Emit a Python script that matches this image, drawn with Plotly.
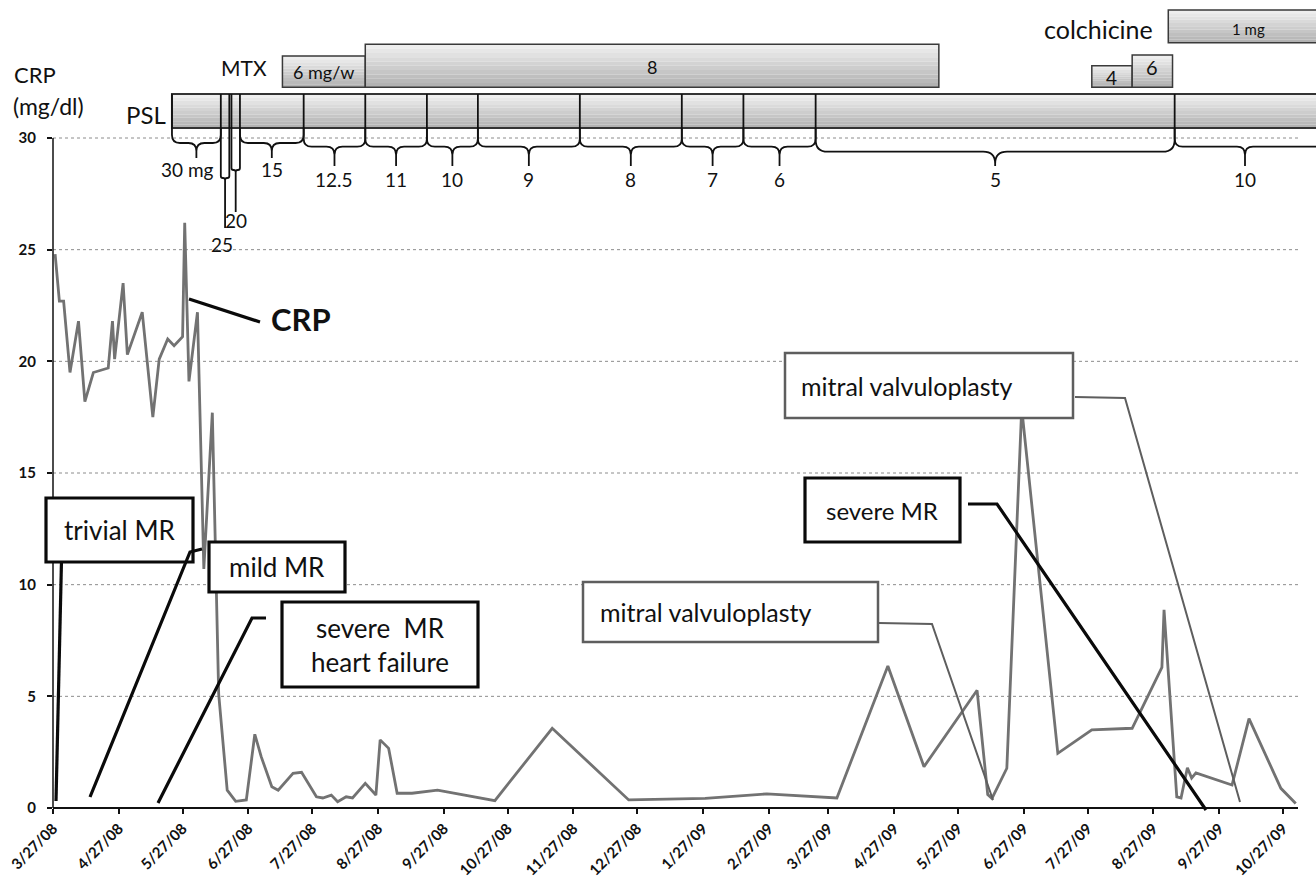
import plotly.graph_objects as go
import pandas as pd

# ---------------- data ----------------
crp_dates = ['2008-03-28', '2008-03-30', '2008-04-01', '2008-04-04', '2008-04-08', '2008-04-11',
             '2008-04-15', '2008-04-22', '2008-04-24', '2008-04-25', '2008-04-29', '2008-05-01',
             '2008-05-08', '2008-05-13', '2008-05-16', '2008-05-20', '2008-05-23', '2008-05-27',
             '2008-05-28', '2008-05-30', '2008-06-03', '2008-06-06', '2008-06-10', '2008-06-13',
             '2008-06-17', '2008-06-21', '2008-06-26', '2008-06-30', '2008-07-03', '2008-07-08',
             '2008-07-11', '2008-07-18', '2008-07-22', '2008-07-29', '2008-08-01', '2008-08-05',
             '2008-08-08', '2008-08-12', '2008-08-15', '2008-08-21', '2008-08-26', '2008-08-28',
             '2008-09-01', '2008-09-05', '2008-09-12', '2008-09-24', '2008-10-21', '2008-11-17',
             '2008-12-23', '2009-01-28', '2009-02-26', '2009-03-31', '2009-04-24', '2009-05-11',
             '2009-06-05', '2009-06-10', '2009-06-12', '2009-06-19', '2009-06-26', '2009-07-13',
             '2009-07-29', '2009-08-17', '2009-08-31', '2009-09-01', '2009-09-07', '2009-09-09',
             '2009-09-12', '2009-09-14', '2009-09-16', '2009-10-03', '2009-10-11', '2009-10-26',
             '2009-11-02']
crp_values = [24.8, 22.7, 22.7, 19.5, 21.8, 18.2,
              19.5, 19.7, 21.8, 20.1, 23.5, 20.3,
              22.2, 17.5, 20.1, 21.0, 20.7, 21.1,
              26.2, 19.1, 22.2, 10.7, 17.7, 5.1,
              0.8, 0.3, 0.36, 3.3, 2.3, 0.95,
              0.8, 1.55, 1.6, 0.5, 0.45, 0.58,
              0.28, 0.5, 0.45, 1.1, 0.58, 3.05,
              2.67, 0.66, 0.66, 0.8, 0.33, 3.57,
              0.36, 0.43, 0.63, 0.45, 6.36, 1.85,
              5.27, 0.6, 0.43, 1.78, 17.9, 2.45,
              3.5, 3.57, 6.3, 8.87, 0.5, 0.45,
              1.8, 1.34, 1.57, 1.03, 4.0, 0.88,
              0.2]

tick_labels = ['3/27/08', '4/27/08', '5/27/08', '6/27/08', '7/27/08', '8/27/08', '9/27/08',
               '10/27/08', '11/27/08', '12/27/08', '1/27/09', '2/27/09', '3/27/09', '4/27/09',
               '5/27/09', '6/27/09', '7/27/09', '8/27/09', '9/27/09', '10/27/09']
y_ticks = [0, 5, 10, 15, 20, 25, 30]

psl_start = ['2008-05-22', '2008-06-14', '2008-06-19', '2008-06-23', '2008-07-23', '2008-08-21',
             '2008-09-19', '2008-10-13', '2008-11-30', '2009-01-17', '2009-02-15', '2009-03-21',
             '2009-09-06']
psl_end = ['2008-06-14', '2008-06-18', '2008-06-23', '2008-07-23', '2008-08-21', '2008-09-19',
           '2008-10-13', '2008-11-30', '2009-01-17', '2009-02-15', '2009-03-21', '2009-09-06',
           '2009-12-31']
psl_dose = ['30 mg', '25', '20', '15', '12.5', '11', '10', '9', '8', '7', '6', '5', '10']

mtx_start = ['2008-07-13', '2008-08-21']
mtx_end = ['2008-08-21', '2009-05-18']
mtx_dose = ['6 mg/w', '8']

colch_start = ['2009-07-29', '2009-08-17', '2009-09-03']
colch_end = ['2009-08-17', '2009-09-05', '2009-12-31']
colch_dose = ['4', '6', '1 mg']

# ---------------- geometry helpers (pixel layout of the page) ----------------
W, H = 1316, 880
PL, PB = 53, 808                 # plot left / plot bottom in px (top margin 0, right margin 0)
X0 = pd.Timestamp('2008-03-27')
PX_PER_DAY = (1283 - 53) / 579.0
Y_PX_PER_UNIT = (808 - 138) / 30.0
FONT = 'Lato'


def xp(px):
    return (px - PL) / (W - PL)


def yp(py):
    return 1 - py / PB


def d2px(d):
    return PL + (pd.Timestamp(d) - X0).total_seconds() / 86400.0 * PX_PER_DAY


def px2d(px, sep=' '):
    t = X0 + pd.Timedelta(seconds=(px - PL) / PX_PER_DAY * 86400.0)
    return t.strftime('%Y-%m-%d' + sep + '%H:%M:%S')


fig = go.Figure()

fig.add_trace(go.Scatter(x=crp_dates, y=crp_values, mode='lines',
                         line=dict(color='#727272', width=2.8), hoverinfo='skip',
                         showlegend=False))

shapes = []
annotations = []

# gridlines + axis lines
x_end = px2d(1298)
for v in y_ticks[1:]:
    shapes.append(dict(type='line', xref='x', yref='y', x0=str(X0.date()), x1=x_end, y0=v, y1=v,
                       line=dict(color='#8c8c8c', width=1, dash='dot'), layer='below'))
shapes.append(dict(type='line', xref='x', yref='paper', x0=str(X0.date()), x1=x_end, y0=0, y1=0,
                   line=dict(color='#111', width=2), layer='above'))
shapes.append(dict(type='line', xref='paper', yref='y', x0=0, x1=0, y0=0, y1=30,
                   line=dict(color='#111', width=1.5), layer='above'))


def grad_bar(d0, d1, ytop, ybot, n=10, c_top=238, c_bot=178, border='#3a3a3a', bw=1.5):
    for i in range(n):
        a = ytop + (ybot - ytop) * i / n
        b = ytop + (ybot - ytop) * (i + 1) / n
        c = int(round(c_top + (c_bot - c_top) * i / (n - 1)))
        shapes.append(dict(type='rect', xref='x', yref='paper', x0=d0, x1=d1,
                           y0=yp(b), y1=yp(a), line=dict(width=0),
                           fillcolor='rgb(%d,%d,%d)' % (c, c, c), layer='above'))
    shapes.append(dict(type='rect', xref='x', yref='paper', x0=d0, x1=d1,
                       y0=yp(ybot), y1=yp(ytop), line=dict(color=border, width=bw),
                       fillcolor='rgba(0,0,0,0)', layer='above'))


def brace(d0, d1, ytop, yh, yt, r, xm=None):
    x0, x1 = d2px(d0), d2px(d1)
    if xm is None:
        xm = (x0 + x1) / 2
    r = min(r, (x1 - x0) / 4.0)

    def P(x, y):
        return '%s,%.5f' % (px2d(x, '_'), yp(y))
    path = ('M ' + P(x0, ytop) + ' L ' + P(x0, yh - r) + ' Q ' + P(x0, yh) + ' ' + P(x0 + r, yh) +
            ' L ' + P(xm - r, yh) + ' Q ' + P(xm, yh) + ' ' + P(xm, yh + r) + ' L ' + P(xm, yt) +
            ' M ' + P(xm, yh + r) + ' Q ' + P(xm, yh) + ' ' + P(xm + r, yh) +
            ' L ' + P(x1 - r, yh) + ' Q ' + P(x1, yh) + ' ' + P(x1, yh - r) + ' L ' + P(x1, ytop))
    shapes.append(dict(type='path', xref='x', yref='paper', path=path,
                       line=dict(color='#111', width=1.8), layer='above'))


def label(text, x, y, size, xref='paper', xanchor='center', bold=False, color='#111', **kw):
    annotations.append(dict(text=text, x=x, y=y, xref=xref, yref='paper', xanchor=xanchor,
                            yanchor='middle', showarrow=False,
                            font=dict(family=FONT, size=size, color=color,
                                      weight='bold' if bold else 'normal'), **kw))


# ---- PSL bar ----
PSL_TOP, PSL_BOT = 94, 128
grad_bar(psl_start[0], psl_end[-1], PSL_TOP, PSL_BOT, border='#333', bw=2)
bounds = sorted(set(psl_start + psl_end[:-1]))
for b in bounds:
    shapes.append(dict(type='line', xref='x', yref='paper', x0=b, x1=b, y0=yp(PSL_BOT),
                       y1=yp(PSL_TOP), line=dict(color='#111', width=1.8), layer='above'))
brace_style = [  # (y_horizontal, y_tip, y_label, radius, label x-shift, tip px override)
    (143, 158, 170, 8, -9, None), (178, 228, 244, 2, -3, None), (170, 212, 220, 2, 0, None),
    (143, 158, 170, 8, 0, None),
    (146.7, 166, 180, 8, 0, None), (146.7, 166, 180, 8, 0, None), (146.7, 166, 180, 8, 0, None),
    (146.7, 166, 180, 8, 0, None), (146.7, 166, 180, 8, 0, None), (146.7, 166, 180, 8, 0, None),
    (146.7, 166, 180, 8, 0, None), (151.7, 166, 180, 12, 0, None), (146.7, 166, 180, 8, 0, 1245)]
for s, e, dose, st in zip(psl_start, psl_end, psl_dose, brace_style):
    yh, yt, yl, r, dx, tipx = st
    brace(s, e, PSL_BOT, yh, yt, r, xm=tipx)
    mid = px2d(tipx) if tipx else px2d((d2px(s) + d2px(e)) / 2)
    label(dose, mid, yp(yl), 19, xref='x', xshift=dx)

# ---- MTX bars ----
mtx_y = [(56, 87.3), (44.3, 87.3)]
mtx_label_y = [71.5, 67]
for s, e, dose, (a, b), ly in zip(mtx_start, mtx_end, mtx_dose, mtx_y, mtx_label_y):
    grad_bar(s, e, a, b)
    label(dose, px2d((d2px(s) + d2px(e)) / 2), yp(ly), 18, xref='x')

# ---- colchicine bars ----
colch_y = [(65.7, 87.3), (55, 87.3), (10, 42.7)]
colch_label = [(None, 78), (None, 67), (1248, 29)]
colch_size = [19, 20, 15]
for s, e, dose, (a, b), (lx, ly), fs in zip(colch_start, colch_end, colch_dose, colch_y,
                                            colch_label, colch_size):
    grad_bar(s, e, a, b)
    xm = px2d(lx) if lx else px2d((d2px(s) + d2px(e)) / 2)
    label(dose, xm, yp(ly), fs, xref='x')

# ---- side labels ----
label('CRP', xp(12), yp(75), 22, xanchor='left')
label('(mg/dl)', xp(11), yp(106), 23, xanchor='left')
label('PSL', xp(145.5), yp(114), 24)
label('MTX', xp(244.5), yp(68), 21)
label('colchicine', xp(1098.5), yp(29), 25)

# ---- callout boxes ----


def box(x0, y0, x1, y1, color, width):
    shapes.append(dict(type='rect', xref='paper', yref='paper', x0=xp(x0), x1=xp(x1),
                       y0=yp(y1), y1=yp(y0), fillcolor='white',
                       line=dict(color=color, width=width), layer='above'))


def callout(pts, color, width):
    path = 'M ' + ' L '.join('%.5f,%.5f' % (xp(x), yp(y)) for x, y in pts)
    shapes.append(dict(type='path', xref='paper', yref='paper', path=path,
                       line=dict(color=color, width=width), layer='above'))


BLK = '#0a0a0a'
GRY = '#5e5e5e'
callout([(189, 299), (260, 322)], BLK, 3.2)
label('CRP', xp(301), yp(319), 31, bold=True)

callout([(61.5, 560), (56, 801)], BLK, 3.2)
box(46, 498, 193, 562, BLK, 3.2)
label('trivial MR', xp(119.5), yp(530), 26)

callout([(202, 549), (190, 552), (90, 797)], BLK, 3.2)
box(209, 542, 345, 592, BLK, 3.2)
label('mild MR', xp(277), yp(567), 26)

callout([(266, 618), (252, 618), (158, 803)], BLK, 3.2)
box(282, 602, 478, 687, BLK, 3.2)
label('severe  MR<br>heart failure', xp(380), yp(645), 26)

callout([(879, 623), (932, 624), (993, 800)], GRY, 2)
box(583, 582, 878, 642, GRY, 2.5)
label('mitral valvuloplasty', xp(598), yp(612), 25, xanchor='left')

callout([(1075, 397), (1125, 398), (1240, 802)], GRY, 2)
box(785, 353, 1073, 418, GRY, 2.5)
label('mitral valvuloplasty', xp(799), yp(386), 25, xanchor='left')

callout([(968, 504), (997, 504), (1206, 810)], BLK, 3.2)
box(805, 478, 960, 542, BLK, 3.2)
label('severe MR', xp(882), yp(510), 24)

tick_dates = [pd.to_datetime(t, format='%m/%d/%y').strftime('%Y-%m-%d') for t in tick_labels]

fig.update_layout(
    width=W, height=H, template='none',
    margin=dict(l=PL, r=0, t=0, b=H - PB, pad=0),
    paper_bgcolor='white', plot_bgcolor='white',
    font=dict(family=FONT, color='#111'),
    showlegend=False,
    shapes=shapes, annotations=annotations,
    xaxis=dict(type='date', range=[str(X0.date()), px2d(W)], tickvals=tick_dates,
               ticktext=tick_labels, tickangle=-45, ticks='outside', ticklen=5, tickwidth=1.5,
               tickcolor='#111', showgrid=False, showline=False, zeroline=False,
               tickfont=dict(family=FONT, size=15, color='#111', weight='bold'),
               automargin=False, fixedrange=True),
    yaxis=dict(range=[0, PB / Y_PX_PER_UNIT], tickvals=y_ticks, ticks='outside', ticklen=5,
               tickwidth=1.5, tickcolor='#111', showgrid=False, showline=False, zeroline=False,
               tickfont=dict(family=FONT, size=15, color='#111', weight='bold'),
               ticklabelstandoff=8, automargin=False, fixedrange=True),
)

fig.write_html('out.html', config={'displayModeBar': False},
               post_script="document.body.style.margin='0';")
